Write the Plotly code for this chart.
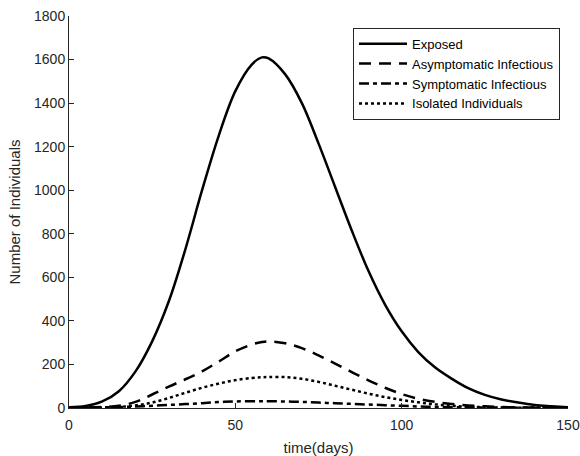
import plotly.graph_objects as go

t = [0, 5, 10, 15, 20, 25, 30, 35, 40, 45, 50, 55, 58, 60, 65, 70, 75, 80, 85, 90,
     95, 100, 105, 110, 115, 120, 125, 130, 135, 140, 145, 150]

exposed = [4, 9, 30, 77, 168, 306, 490, 730, 1000, 1250, 1455, 1578, 1610, 1605, 1532,
           1400, 1215, 1015, 815, 630, 475, 352, 257, 187, 135, 91, 60, 39, 25, 14, 8, 3]

asymptomatic = [3, 3, 5, 10, 28, 62, 98, 132, 168, 213, 260, 292, 303, 306, 297, 275,
                242, 204, 165, 127, 93, 64, 42, 28, 18, 12, 8, 5, 3, 2, 1, 1]

symptomatic = [3, 2, 3, 4, 7, 10, 14, 18, 22, 27, 30, 31, 31, 31, 30, 28, 25, 22, 19, 16,
               13, 10, 7, 5, 4, 3, 2, 1, 1, 1, 0, 0]

isolated = [1, 1, 2, 5, 12, 25, 46, 70, 93, 112, 128, 138, 141, 142, 142, 134, 120, 102,
            84, 66, 50, 37, 26, 17, 10, 6, 4, 2, 1, 1, 0, 0]

series = [
    ("Exposed", exposed, "solid"),
    ("Asymptomatic Infectious", asymptomatic, "12px,8px"),
    ("Symptomatic Infectious", symptomatic, "10px,4px,4px,4px"),
    ("Isolated Individuals", isolated, "3px,3px"),
]

fig = go.Figure()
for name, vals, dash in series:
    fig.add_trace(go.Scatter(x=t, y=vals, mode="lines", name=name,
                             line=dict(color="black", width=2.5, dash=dash, shape="spline",
                                       smoothing=1.0)))

font_family = "Liberation Sans, Arial, sans-serif"
axis_common = dict(showline=True, linecolor="#262626", linewidth=1, ticks="inside",
                   ticklen=5, tickcolor="#262626", showgrid=False, zeroline=False,
                   tickfont=dict(family=font_family, size=14, color="#262626"),
                   mirror=False, automargin=False)

fig.update_layout(
    width=580, height=456,
    margin=dict(l=69, r=12, t=16, b=48),
    paper_bgcolor="white", plot_bgcolor="white",
    font=dict(family=font_family, color="#262626"),
    xaxis=dict(range=[0, 150], tickvals=[0, 50, 100, 150], ticklabelstandoff=4,
               title=dict(text="time(days)", font=dict(size=15, family=font_family), standoff=11),
               **axis_common),
    yaxis=dict(range=[0, 1800], tickvals=list(range(0, 1801, 200)),
               title=dict(text="Number of Individuals", font=dict(size=15, family=font_family), standoff=9),
               **axis_common),
    legend=dict(x=0.984, y=0.97, xanchor="right", yanchor="top",
                bordercolor="#262626", borderwidth=1, bgcolor="white",
                font=dict(family=font_family, size=13, color="black"),
                itemwidth=48, tracegroupgap=0),
    showlegend=True,
)

fig.write_html("out.html")
